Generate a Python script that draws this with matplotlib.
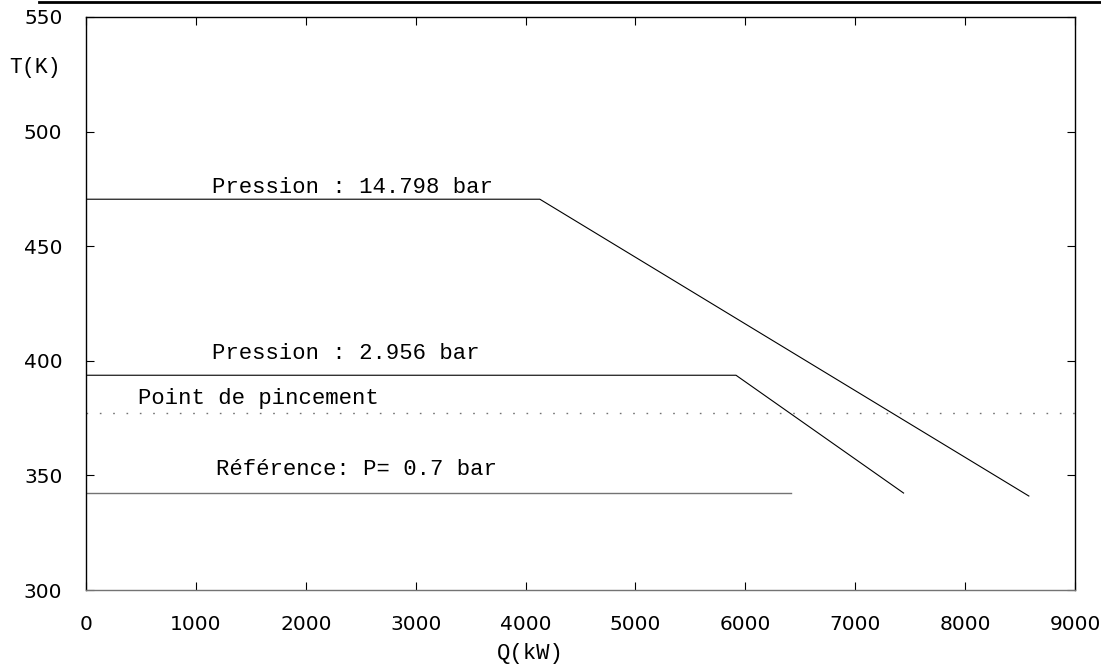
import matplotlib
matplotlib.use("Agg")
import matplotlib.pyplot as plt
from matplotlib.lines import Line2D

# Data
q_high = [0, 4130, 8580]
t_high = [470.5, 470.5, 341]
q_mid = [0, 5915, 7440]
t_mid = [393.7, 393.7, 342.3]
q_ref = [0, 6420]
t_ref = [342.3, 342.3]
t_pinch = 377.3

labels = ["Pression : 14.798 bar", "Pression : 2.956 bar",
          "Point de pincement", "Référence: P= 0.7 bar"]
label_pos = [(1150, 473), (1150, 401), (470, 381), (1180, 350)]

xticks = list(range(0, 10000, 1000))
yticks = list(range(300, 551, 50))

mono = "Liberation Mono"

fig = plt.figure(figsize=(11.01, 6.66), dpi=100)
ax = fig.add_axes([86/1101, 76/666, (1075-86)/1101, (590-17)/666])

ax.plot(q_high, t_high, color="black", lw=0.8)
ax.plot(q_mid, t_mid, color="black", lw=0.8)
ax.plot(q_ref, t_ref, color="0.45", lw=1.0)
ax.axhline(t_pinch, color="0.45", lw=1.0, linestyle=(0, (1.2, 8.4)))

for s, (x, y) in zip(labels, label_pos):
    ax.text(x, y, s, fontsize=16, family=mono, ha="left", va="baseline")

ax.set_xlim(0, 9000)
ax.set_ylim(300, 550)
ax.set_xticks(xticks)
ax.set_yticks(yticks)
ax.tick_params(direction="in", top=True, right=True, length=6, width=0.8,
               labelsize=14.5)
ax.tick_params(axis="x", pad=18)
ax.tick_params(axis="y", pad=17)
for sp in ax.spines.values():
    sp.set_linewidth(1.0)
ax.spines["bottom"].set_color("0.45")

fig.text(35/1101, 1 - 67/666, "T(K)", family=mono, fontsize=15.5,
         ha="center", va="center")
fig.text(530/1101, 1 - 654/666, "Q(kW)", family=mono, fontsize=16,
         ha="center", va="center")

fig.add_artist(Line2D([39/1101, 1.0], [1 - 2/666, 1 - 2/666],
                      transform=fig.transFigure, color="black", lw=2))

fig.savefig("out.png", dpi=100)
